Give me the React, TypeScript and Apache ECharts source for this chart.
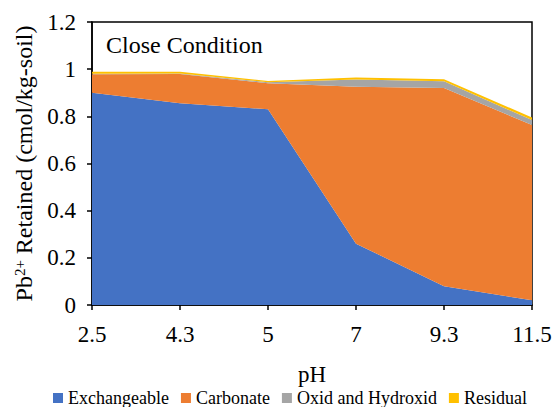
import React, { useEffect, useRef } from "react";
import * as echarts from "echarts";

const categories = ["2.5", "4.3", "5", "7", "9.3", "11.5"];
const exchangeable = [0.9, 0.855, 0.83, 0.26, 0.08, 0.02];
const carbonate = [0.078, 0.124, 0.11, 0.665, 0.84, 0.743];
const oxidHydroxid = [0.003, 0.003, 0.005, 0.031, 0.029, 0.021];
const residual = [0.008, 0.007, 0.005, 0.009, 0.008, 0.011];
const seriesNames = ["Exchangeable", "Carbonate", "Oxid and Hydroxid", "Residual"];
const colors = ["#4472C4", "#ED7D31", "#A5A5A5", "#FFC000"];

const FONT = "Liberation Serif";

export default function App() {
  const ref = useRef<HTMLDivElement>(null);
  useEffect(() => {
    if (!ref.current) return;
    const chart = echarts.init(ref.current, null, { renderer: "svg" });
    const data = [exchangeable, carbonate, oxidHydroxid, residual];
    chart.setOption({
      animation: false,
      textStyle: { fontFamily: FONT, color: "#000" },
      grid: {
        left: 92,
        right: 27,
        top: 22,
        bottom: 102,
        show: true,
        borderColor: "#000",
        borderWidth: 1.5,
        backgroundColor: "transparent",
      },
      legend: {
        top: 389,
        left: 53,
        padding: 0,
        icon: "rect",
        itemWidth: 10,
        itemHeight: 10,
        itemGap: 12,
        textStyle: { fontFamily: FONT, fontSize: 18, color: "#000" },
        data: seriesNames,
      },
      xAxis: {
        type: "category",
        data: categories,
        boundaryGap: false,
        name: "pH",
        nameLocation: "middle",
        nameGap: 58,
        nameTextStyle: { fontFamily: FONT, fontSize: 23, color: "#000" },
        axisLine: { lineStyle: { color: "#000", width: 1.5 } },
        axisTick: { show: true, length: 5, lineStyle: { color: "#000", width: 1.5 } },
        axisLabel: { fontFamily: FONT, fontSize: 23, color: "#000", margin: 18 },
        splitLine: { show: false },
      },
      yAxis: {
        type: "value",
        min: 0,
        max: 1.2,
        interval: 0.2,
        name: "Pb{sup|2+} Retained (cmol/kg-soil)",
        nameLocation: "middle",
        nameGap: 54,
        nameTextStyle: {
          fontFamily: FONT,
          fontSize: 24,
          color: "#000",
          rich: {
            sup: { fontFamily: FONT, fontSize: 15, color: "#000", padding: [0, 0, 9, 0] },
          },
        },
        axisLine: { show: true, lineStyle: { color: "#000", width: 1.5 } },
        axisTick: { show: true, length: 5, lineStyle: { color: "#000", width: 1.5 } },
        axisLabel: { fontFamily: FONT, fontSize: 23, color: "#000", margin: 16 },
        splitLine: { show: false },
      },
      graphic: [
        {
          type: "text",
          left: 106,
          top: 33,
          style: { text: "Close Condition", fontFamily: FONT, fontSize: 24, fill: "#000" },
        },
      ],
      series: seriesNames.map((name, i) => ({
        name,
        type: "line",
        stack: "total",
        data: data[i],
        symbol: "none",
        showSymbol: false,
        lineStyle: { width: 0 },
        areaStyle: { color: colors[i], opacity: 1 },
        itemStyle: { color: colors[i] },
        emphasis: { disabled: true },
      })),
    });
    return () => chart.dispose();
  }, []);
  return (
    <div
      ref={ref}
      style={{ position: "absolute", left: 0, top: 0, width: 559, height: 407, background: "#fff" }}
    />
  );
}
